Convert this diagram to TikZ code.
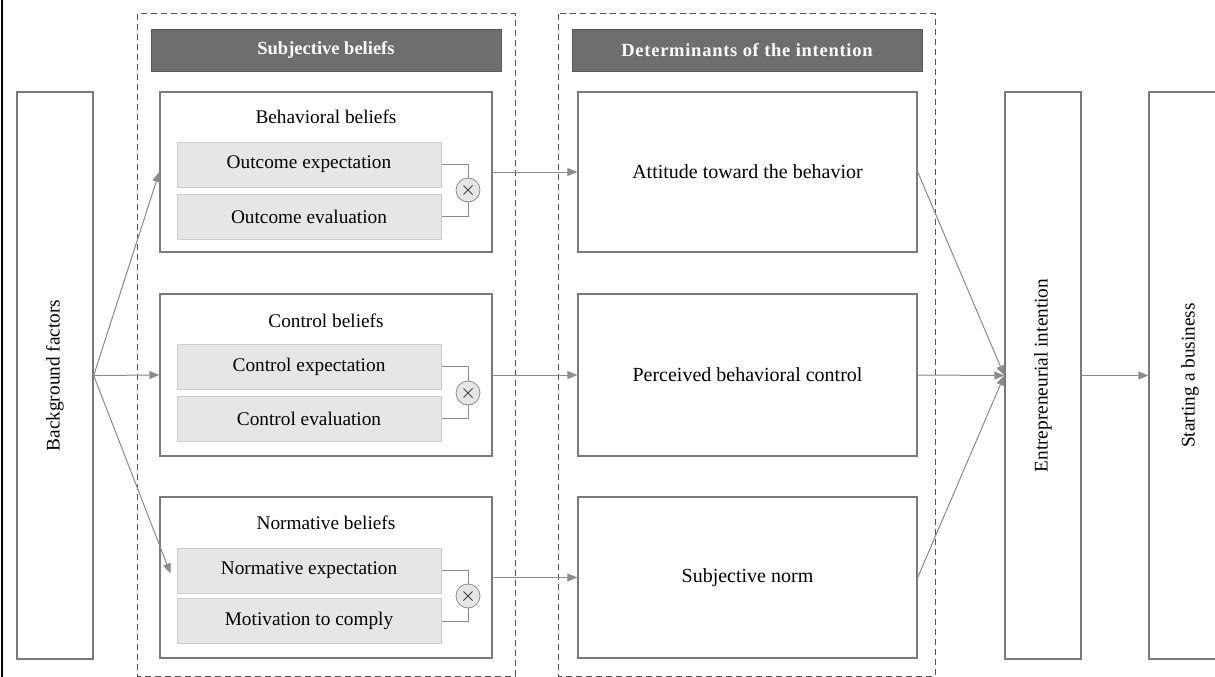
\documentclass[tikz,border=0pt]{standalone}
\usepackage{fontspec}
\setmainfont{Liberation Serif}
\usetikzlibrary{arrows.meta,calc}
\definecolor{boxgray}{HTML}{7A7A7A}
\definecolor{hdrgray}{HTML}{6E6E6E}
\definecolor{linegray}{HTML}{8C8C8C}
\definecolor{innerfill}{HTML}{E6E6E6}
\definecolor{innerdraw}{HTML}{CDCDCD}
\definecolor{dashgray}{HTML}{555555}
\tikzset{
  every node/.style={font=\fontsize{19.3}{22}\selectfont},
  bigbox/.style={draw=boxgray, line width=1.4pt, inner sep=0pt},
  dettext/.style={font=\fontsize{20}{22}\selectfont},
  hdr/.style={fill=hdrgray, draw=hdrgray!80!black, line width=0.6pt, text=white, minimum height=42pt, inner sep=0pt, font=\fontsize{18.5}{20}\selectfont\bfseries},
  inner/.style={fill=innerfill, draw=innerdraw, line width=1pt, minimum width=264pt, minimum height=45pt, inner sep=0pt},
  mult/.style={circle, fill=innerfill, draw=linegray, line width=0.8pt, minimum size=24pt, inner sep=0pt,
    path picture={\draw[black!75, line width=1pt] ($(path picture bounding box.center)+(-4.5,-4.5)$) -- ($(path picture bounding box.center)+(4.5,4.5)$) ($(path picture bounding box.center)+(-4.5,4.5)$) -- ($(path picture bounding box.center)+(4.5,-4.5)$);}},
  title/.style={inner sep=0pt},
  arr/.style={draw=linegray, line width=1pt, -{Triangle[length=10pt,width=8pt]}, fill=linegray},
  link/.style={draw=linegray, line width=0.9pt},
  group/.style={draw=dashgray, line width=1pt, dash pattern=on 6pt off 4pt},
}
\begin{document}
\begin{tikzpicture}[x=1pt,y=-1pt]
\clip (0,0) rectangle (1215,677);
\draw[black, line width=1.4pt] (2,0) -- (2,677);
% dashed groups
\draw[group] (137,14) rectangle (515,676);
\draw[group] (558,14) rectangle (935,676);
% headers
\node[hdr, minimum width=350pt] (h1) at (326,50) {Subjective beliefs};
\node[hdr, minimum width=350pt] (h2) at (747,50) {\addfontfeatures{LetterSpace=4}Determinants of the intention};
% background factors
\node[bigbox, minimum width=76pt, minimum height=567pt] (bg) at (55,375.5) {};
\node[rotate=90] (bgt) at (bg.center) {Background factors};
% belief boxes
\node[bigbox, minimum width=332pt, minimum height=160pt] (bb1) at (326,172) {};
\node[bigbox, minimum width=332pt, minimum height=162pt] (bb2) at (326,375) {};
\node[bigbox, minimum width=332pt, minimum height=161pt] (bb3) at (326,577.5) {};
\node[title] (t1) at (326,117) {Behavioral beliefs};
\node[title] (t2) at (326,321) {Control beliefs};
\node[title] (t3) at (326,523) {Normative beliefs};
\node[inner] (oe) at (309,164.5) {Outcome expectation};
\node[inner] (ov) at (309,216.5) {Outcome evaluation};
\node[inner] (ce) at (309,366.5) {Control expectation};
\node[inner] (cv) at (309,418.5) {Control evaluation};
\node[inner] (ne) at (309,570.5) {Normative expectation};
\node[inner] (mc) at (309,621) {Motivation to comply};
\node[mult] (m1) at (468,190) {};
\node[mult] (m2) at (468,393) {};
\node[mult] (m3) at (468,596) {};
\draw[link] (oe.east) -| (m1.north);
\draw[link] (ov.east) -| (m1.south);
\draw[link] (ce.east) -| (m2.north);
\draw[link] (cv.east) -| (m2.south);
\draw[link] (ne.east) -| (m3.north);
\draw[link] (mc.east) -| (m3.south);
% determinants
\node[bigbox, dettext, minimum width=339pt, minimum height=160pt] (d1) at (747.5,172) {Attitude toward the behavior};
\node[bigbox, dettext, minimum width=339pt, minimum height=162pt] (d2) at (747.5,375) {Perceived behavioral control};
\node[bigbox, dettext, minimum width=339pt, minimum height=161pt] (d3) at (747.5,577.5) {Subjective norm};
% intention and behaviour
\node[bigbox, minimum width=76pt, minimum height=567pt] (ei) at (1043,375.5) {};
\node[rotate=90] (eit) at (ei.center) {Entrepreneurial intention};
\node[bigbox, minimum width=82pt, minimum height=567pt] (sb) at (1190,375.5) {};
\node[rotate=90] (sbt) at (sb.center) {Starting a business};
% arrows
\coordinate (n3) at ($(ne.west)+(-6,3)$);
\draw[arr] (bg.east) -- (bb1.west);
\draw[arr] (bg.east) -- (bb2.west);
\draw[arr] (bg.east) -- (n3);
\draw[arr] (bb1.east) -- (d1.west);
\draw[arr] (bb2.east) -- (d2.west);
\draw[arr] (bb3.east) -- (d3.west);
\draw[arr] (d1.east) -- (ei.west);
\draw[arr] (d2.east) -- (ei.west);
\draw[arr] (d3.east) -- (ei.west);
\draw[arr] (ei.east) -- (sb.west);
\end{tikzpicture}
\end{document}
